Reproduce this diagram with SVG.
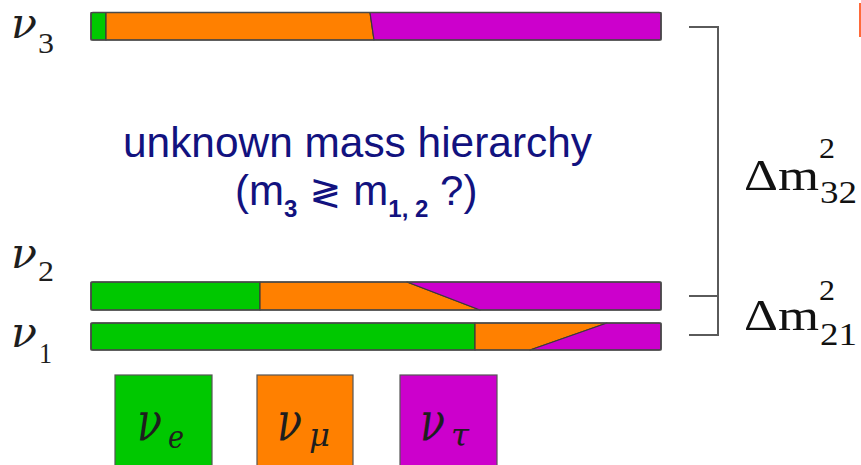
<svg xmlns="http://www.w3.org/2000/svg" width="861" height="465" viewBox="0 0 861 465">
<style>
.bar{stroke:#3a3a3a;stroke-width:1.2;stroke-linejoin:round}
.g{fill:#00c800}.o{fill:#ff8000}.p{fill:#cc00cc}
.frame{fill:none;stroke:#4a4a4a;stroke-width:1.6}
.nu{font-family:"DejaVu Serif","Liberation Serif",serif;font-style:italic;fill:#1e1e1e}
.dig{font-family:"Liberation Serif",serif;font-style:normal;fill:#1e1e1e}
.dm{font-family:"Liberation Serif",serif;fill:#111}
.blue{font-family:"Liberation Sans",Arial,sans-serif;fill:#12127f}
.br{fill:none;stroke:#5a5a5a;stroke-width:2}
.leg{stroke:#555;stroke-width:1.2}
</style>
<rect width="861" height="465" fill="#fff"/>
<g id="bar-nu3">
<rect class="bar g" x="91" y="12.5" width="15" height="27.5"/>
<polygon class="bar o" points="106,12.5 370,12.5 374,40 106,40"/>
<polygon class="bar p" points="370,12.5 661,12.5 661,40 374,40"/>
<rect class="frame" x="91" y="12.5" width="570" height="27.5" rx="2"/>
</g>
<g id="bar-nu2">
<rect class="bar g" x="91" y="282" width="169" height="28"/>
<polygon class="bar o" points="260,282 407,282 480,310 260,310"/>
<polygon class="bar p" points="407,282 661,282 661,310 480,310"/>
<rect class="frame" x="91" y="282" width="570" height="28" rx="2"/>
</g>
<g id="bar-nu1">
<rect class="bar g" x="91" y="323" width="384" height="27"/>
<polygon class="bar o" points="475,323 607,323 530,350 475,350"/>
<polygon class="bar p" points="607,323 661,323 661,350 530,350"/>
<rect class="frame" x="91" y="323" width="570" height="27" rx="2"/>
</g>
<g id="label-nu3"><text class="nu" font-size="42"><tspan x="11" y="38" textLength="26" lengthAdjust="spacingAndGlyphs">ν</tspan><tspan class="dig" x="38" y="53" font-size="30" textLength="16" lengthAdjust="spacingAndGlyphs">3</tspan></text></g>
<g id="label-nu2"><text class="nu" font-size="42"><tspan x="11" y="268" textLength="26" lengthAdjust="spacingAndGlyphs">ν</tspan><tspan class="dig" x="38" y="281" font-size="30" textLength="16" lengthAdjust="spacingAndGlyphs">2</tspan></text></g>
<g id="label-nu1"><text class="nu" font-size="42"><tspan x="11" y="347" textLength="26" lengthAdjust="spacingAndGlyphs">ν</tspan><tspan class="dig" x="39" y="363" font-size="30" textLength="13" lengthAdjust="spacingAndGlyphs">1</tspan></text></g>
<g id="hierarchy-text">
<text class="blue" x="357.5" y="157" font-size="42" text-anchor="middle" textLength="469" lengthAdjust="spacingAndGlyphs">unknown mass hierarchy</text>
<text class="blue" y="205" font-size="42"><tspan x="235">(m</tspan><tspan font-size="24" font-weight="bold" dy="12">3</tspan><tspan dy="-12" font-family="'DejaVu Sans',sans-serif" font-size="38"> ≷ </tspan><tspan>m</tspan><tspan font-size="24" font-weight="bold" dy="12">1, 2</tspan><tspan dy="-12"> ?)</tspan></text>
</g>
<g id="connectors">
<path class="br" d="M689,27 H718 V335 H689 M689,296 H718"/>
</g>
<g id="label-dm32">
<text class="dm" font-size="44"><tspan x="744" y="190" textLength="75" lengthAdjust="spacingAndGlyphs">Δm</tspan><tspan x="819" y="158" font-size="30" textLength="16" lengthAdjust="spacingAndGlyphs">2</tspan><tspan x="820" y="203" font-size="32" textLength="37" lengthAdjust="spacingAndGlyphs">32</tspan></text>
</g>
<g id="label-dm21">
<text class="dm" font-size="44"><tspan x="744" y="330" textLength="75" lengthAdjust="spacingAndGlyphs">Δm</tspan><tspan x="819" y="300" font-size="30" textLength="16" lengthAdjust="spacingAndGlyphs">2</tspan><tspan x="820" y="345" font-size="32" textLength="37" lengthAdjust="spacingAndGlyphs">21</tspan></text>
</g>
<g id="legend-nue">
<rect class="leg g" x="115" y="375" width="97" height="95"/>
<text class="nu" font-size="54"><tspan x="137" y="440" textLength="25" lengthAdjust="spacingAndGlyphs">ν</tspan><tspan x="168" y="448" font-size="32" textLength="16" lengthAdjust="spacingAndGlyphs">e</tspan></text>
</g>
<g id="legend-numu">
<rect class="leg o" x="257" y="375" width="96" height="95"/>
<text class="nu" font-size="54"><tspan x="277" y="440" textLength="25" lengthAdjust="spacingAndGlyphs">ν</tspan><tspan x="309" y="446" font-size="32" textLength="21" lengthAdjust="spacingAndGlyphs">μ</tspan></text>
</g>
<g id="legend-nutau">
<rect class="leg p" x="400" y="375" width="97" height="95"/>
<text class="nu" font-size="54"><tspan x="420" y="440" textLength="25" lengthAdjust="spacingAndGlyphs">ν</tspan><tspan x="451" y="446" font-size="32" textLength="18" lengthAdjust="spacingAndGlyphs">τ</tspan></text>
</g>
<rect x="859" y="3" width="2" height="34" fill="#ff6a3a"/>
</svg>
